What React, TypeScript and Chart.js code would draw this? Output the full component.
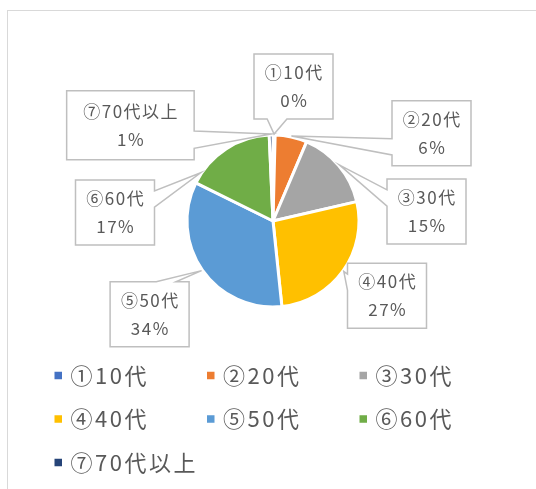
import { useEffect, useRef } from "react";
import { Chart, registerables } from "chart.js";

Chart.register(...registerables);

// ---- data ----
const categories = ["①10代", "②20代", "③30代", "④40代", "⑤50代", "⑥60代", "⑦70代以上"];
const values = [0.4, 6, 15, 27, 34, 17, 0.7];
const colors = ["#4472C4", "#ED7D31", "#A5A5A5", "#FFC000", "#5B9BD5", "#70AD47", "#264478"];

// ---- callout layout (offsets of box centres from the pie centre) ----
const calloutOffsetX = [20.5, 158.5, 153.5, 114, -123.4, -158, -142.6];
const calloutOffsetY = [-134.5, -87.7, -9.5, 74.8, 93.2, -8.5, -95.7];
const calloutW = [79, 79, 79, 79, 79, 79, 127.5];
const calloutH = [65, 65, 65, 65, 65, 65, 69];
const tipFrac = [0.5, 0.5, 0.5, 0.5, 0.5, 0.12, 0.5];

const FONT = '"Noto Sans CJK JP", "Noto Sans", sans-serif';
const TEXT_COLOR = "#595959";

const calloutPlugin = {
  id: "callouts",
  afterDatasetsDraw(chart: any) {
    const ctx: CanvasRenderingContext2D = chart.ctx;
    const meta = chart.getDatasetMeta(0);
    const data = chart.data.datasets[0].data as number[];
    const total = data.reduce((a, b) => a + b, 0);
    ctx.save();
    meta.data.forEach((arc: any, i: number) => {
      const { x, y, startAngle, endAngle, outerRadius } = arc.getProps(
        ["x", "y", "startAngle", "endAngle", "outerRadius"],
        true
      );
      const a = startAngle + (endAngle - startAngle) * tipFrac[i];
      const r = outerRadius + 1;
      const px = x + Math.cos(a) * r;
      const py = y + Math.sin(a) * r;
      const cx = x + calloutOffsetX[i];
      const cy = y + calloutOffsetY[i];
      const w = calloutW[i];
      const h = calloutH[i];
      const l = cx - w / 2;
      const t = cy - h / 2;
      const dxPos = px - cx;
      const dyPos = py - cy;
      const inside = Math.abs(dxPos) <= w / 2 && Math.abs(dyPos) <= h / 2;
      let side = "";
      if (!inside) {
        if (Math.abs(dxPos * h) > Math.abs(dyPos * w)) side = dxPos < 0 ? "l" : "r";
        else side = dyPos < 0 ? "t" : "b";
      }
      const x1 = l + (w * (dxPos > 0 ? 7 : 2)) / 12;
      const x2 = l + (w * (dxPos > 0 ? 10 : 5)) / 12;
      const y1 = t + (h * (dyPos > 0 ? 7 : 2)) / 12;
      const y2 = t + (h * (dyPos > 0 ? 10 : 5)) / 12;
      ctx.beginPath();
      ctx.moveTo(l, t);
      if (side === "t") { ctx.lineTo(x1, t); ctx.lineTo(px, py); ctx.lineTo(x2, t); }
      ctx.lineTo(l + w, t);
      if (side === "r") { ctx.lineTo(l + w, y1); ctx.lineTo(px, py); ctx.lineTo(l + w, y2); }
      ctx.lineTo(l + w, t + h);
      if (side === "b") { ctx.lineTo(x2, t + h); ctx.lineTo(px, py); ctx.lineTo(x1, t + h); }
      ctx.lineTo(l, t + h);
      if (side === "l") { ctx.lineTo(l, y2); ctx.lineTo(px, py); ctx.lineTo(l, y1); }
      ctx.closePath();
      ctx.fillStyle = "#ffffff";
      ctx.fill();
      ctx.lineWidth = 1.5;
      ctx.strokeStyle = "#BFBFBF";
      ctx.lineJoin = "miter";
      ctx.stroke();

      ctx.fillStyle = TEXT_COLOR;
      ctx.font = `17px ${FONT}`;
      (ctx as any).letterSpacing = "1.5px";
      ctx.textAlign = "center";
      ctx.textBaseline = "middle";
      const pct = Math.round((data[i] / total) * 100) + "%";
      ctx.fillText(chart.data.labels[i], cx + 0.75, cy - 14);
      ctx.fillText(pct, cx + 0.75, cy + 14);
    });
    ctx.restore();
  },
};

const legendPlugin = {
  id: "gridLegend",
  afterDraw(chart: any) {
    const ctx: CanvasRenderingContext2D = chart.ctx;
    const labels = chart.data.labels as string[];
    const bg = chart.data.datasets[0].backgroundColor as string[];
    const x0 = 54.5;
    const colW = 152.5;
    const y0 = 375.5;
    const rowH = 43.5;
    const box = 7.5;
    ctx.save();
    ctx.font = `22px ${FONT}`;
    (ctx as any).letterSpacing = "2.5px";
    ctx.textAlign = "left";
    ctx.textBaseline = "middle";
    labels.forEach((lab, i) => {
      const col = i % 3;
      const row = Math.floor(i / 3);
      const bx = x0 + col * colW;
      const by = y0 + row * rowH;
      ctx.fillStyle = bg[i];
      ctx.fillRect(bx, by - box / 2, box, box);
      ctx.fillStyle = TEXT_COLOR;
      ctx.fillText(lab, bx + 16, by);
    });
    ctx.restore();
  },
};

export default function App() {
  const canvasRef = useRef<HTMLCanvasElement | null>(null);

  useEffect(() => {
    if (!canvasRef.current) return;
    const chart = new Chart(canvasRef.current, {
      type: "pie",
      data: {
        labels: categories,
        datasets: [
          {
            data: values,
            backgroundColor: colors,
            borderColor: "#ffffff",
            borderWidth: 3,
            hoverOffset: 0,
            offset: 0,
            radius: 86,
          } as any,
        ],
      },
      options: {
        responsive: false,
        animation: false,
        devicePixelRatio: 1,
        layout: { padding: { left: 100, right: 90, top: 60, bottom: 107 } },
        plugins: {
          legend: { display: false },
          tooltip: { enabled: false },
          title: { display: false },
        },
        events: [],
      },
      plugins: [calloutPlugin, legendPlugin],
    });
    return () => chart.destroy();
  }, []);

  return (
    <div
      style={{
        position: "absolute",
        left: 0,
        top: 0,
        width: 536,
        height: 489,
        overflow: "hidden",
        background: "#ffffff",
      }}
    >
      <div
        style={{
          position: "absolute",
          left: 7,
          top: 10,
          width: 560,
          height: 520,
          border: "1px solid #D9D9D9",
          boxSizing: "border-box",
        }}
      />
      <canvas
        ref={canvasRef}
        width={536}
        height={489}
        style={{ position: "absolute", left: 0, top: 0, width: 536, height: 489 }}
      />
    </div>
  );
}
